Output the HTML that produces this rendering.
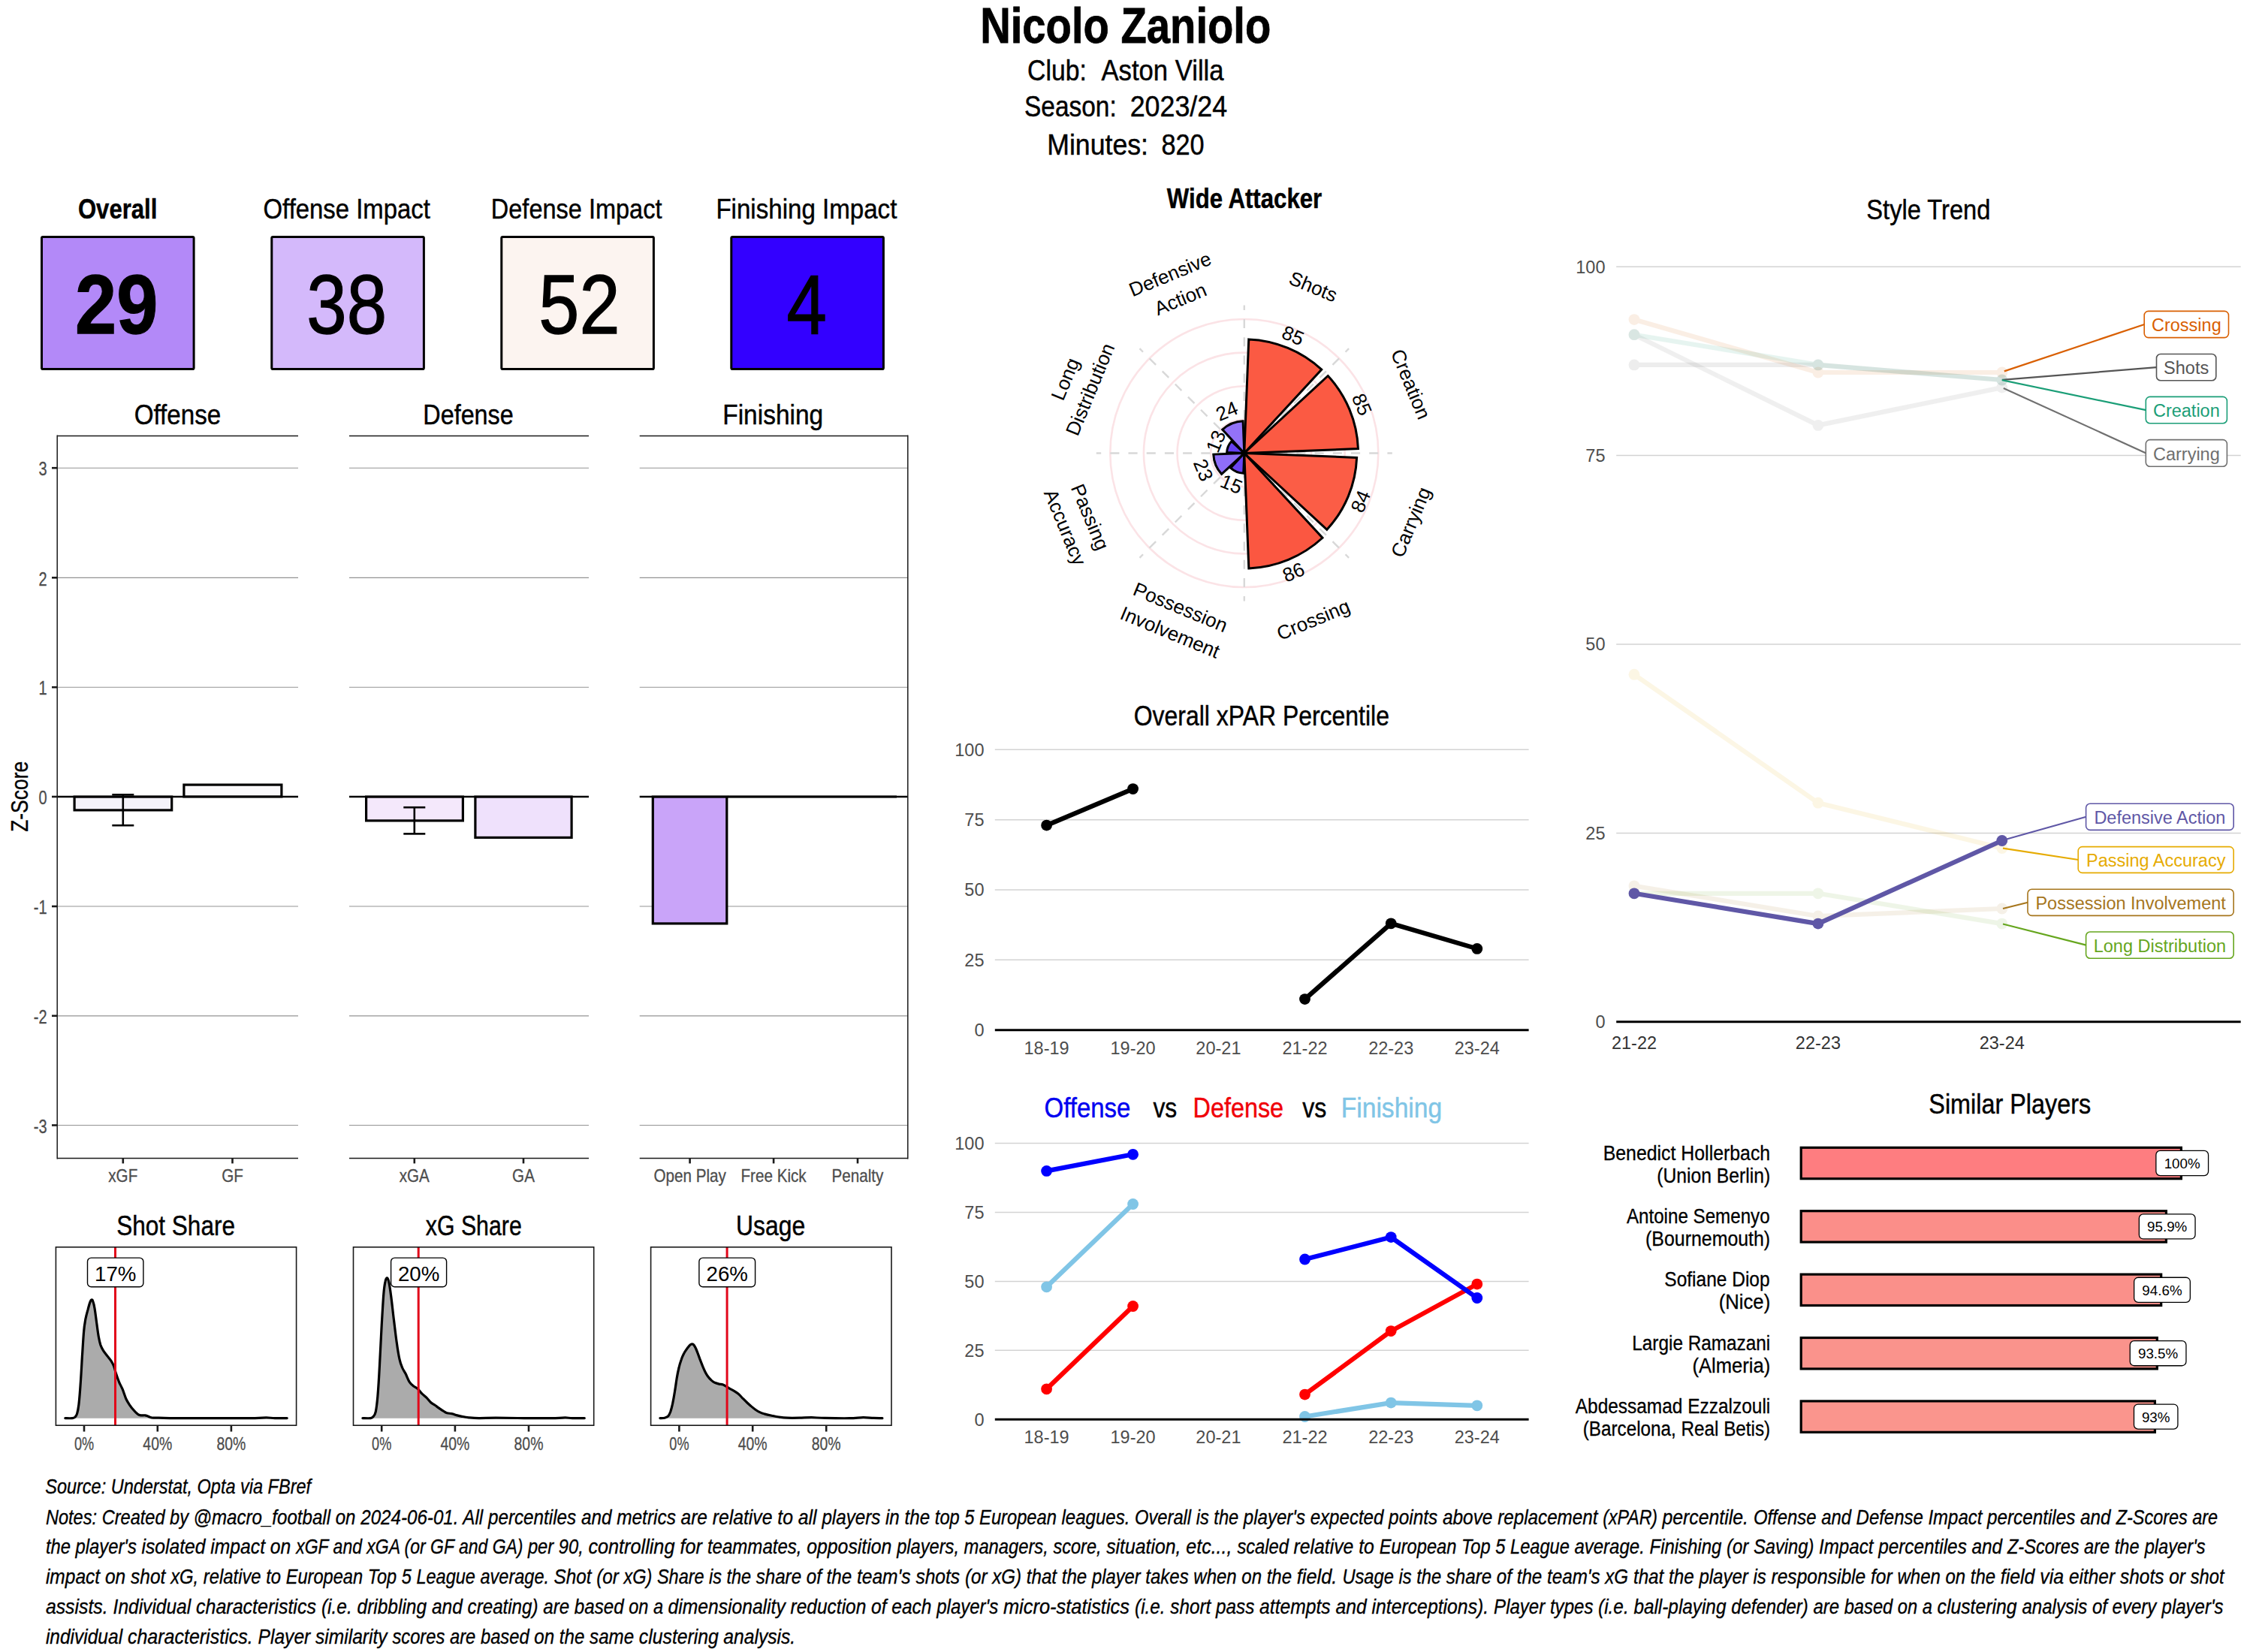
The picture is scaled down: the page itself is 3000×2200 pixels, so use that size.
<!DOCTYPE html>
<html><head><meta charset="utf-8"><title>Nicolo Zaniolo</title>
<style>
html,body{margin:0;padding:0;background:#fff;}
body{width:3000px;height:2200px;overflow:hidden;font-family:"Liberation Sans",sans-serif;}
svg{display:block;font-family:"Liberation Sans",sans-serif;}
</style></head><body>
<svg width="3000" height="2200" viewBox="0 0 3000 2200">
<text x="1305.14" y="57.40" font-size="67" textLength="387.15" lengthAdjust="spacingAndGlyphs" font-weight="bold" fill="#000" stroke="#000" stroke-width="0.80">Nicolo Zaniolo</text>
<text x="1368.09" y="107.00" font-size="39" textLength="78.69" lengthAdjust="spacingAndGlyphs" fill="#000" stroke="#000" stroke-width="0.47">Club:</text>
<text x="1466.43" y="107.00" font-size="39" textLength="163.17" lengthAdjust="spacingAndGlyphs" fill="#000" stroke="#000" stroke-width="0.47">Aston Villa</text>
<text x="1363.98" y="154.70" font-size="39" textLength="122.77" lengthAdjust="spacingAndGlyphs" fill="#000" stroke="#000" stroke-width="0.47">Season:</text>
<text x="1504.70" y="154.70" font-size="39" textLength="129.45" lengthAdjust="spacingAndGlyphs" fill="#000" stroke="#000" stroke-width="0.47">2023/24</text>
<text x="1394.28" y="206.00" font-size="39" textLength="134.68" lengthAdjust="spacingAndGlyphs" fill="#000" stroke="#000" stroke-width="0.47">Minutes:</text>
<text x="1546.41" y="206.00" font-size="39" textLength="57.13" lengthAdjust="spacingAndGlyphs" fill="#000" stroke="#000" stroke-width="0.47">820</text>
<text x="103.92" y="291.40" font-size="37.5" textLength="105.48" lengthAdjust="spacingAndGlyphs" font-weight="bold" fill="#000" stroke="#000" stroke-width="0.45">Overall</text>
<text x="350.54" y="291.40" font-size="37.5" textLength="222.30" lengthAdjust="spacingAndGlyphs" fill="#000" stroke="#000" stroke-width="0.45">Offense Impact</text>
<text x="653.83" y="291.40" font-size="37.5" textLength="227.60" lengthAdjust="spacingAndGlyphs" fill="#000" stroke="#000" stroke-width="0.45">Defense Impact</text>
<text x="953.39" y="291.40" font-size="37.5" textLength="240.96" lengthAdjust="spacingAndGlyphs" fill="#000" stroke="#000" stroke-width="0.45">Finishing Impact</text>
<rect x="55.50" y="315.50" width="202.60" height="176.00" fill="#b389f8" stroke="#000" stroke-width="3" rx="1.6"/>
<rect x="361.80" y="315.50" width="202.60" height="176.00" fill="#d4b9fb" stroke="#000" stroke-width="3" rx="1.6"/>
<rect x="667.80" y="315.50" width="202.60" height="176.00" fill="#fcf4f0" stroke="#000" stroke-width="3" rx="1.6"/>
<rect x="973.80" y="315.50" width="202.60" height="176.00" fill="#3300ff" stroke="#000" stroke-width="3" rx="1.6"/>
<text x="100.06" y="443.80" font-size="112" textLength="110.21" lengthAdjust="spacingAndGlyphs" font-weight="bold" fill="#000" stroke="#000" stroke-width="1.34">29</text>
<text x="408.34" y="443.80" font-size="112" textLength="106.83" lengthAdjust="spacingAndGlyphs" fill="#000" stroke="#000" stroke-width="1.34">38</text>
<text x="717.31" y="443.80" font-size="112" textLength="108.19" lengthAdjust="spacingAndGlyphs" fill="#000" stroke="#000" stroke-width="1.34">52</text>
<text x="1047.40" y="443.80" font-size="112" textLength="53.42" lengthAdjust="spacingAndGlyphs" fill="#000" stroke="#000" stroke-width="1.34">4</text>
<line x1="76.20" y1="623.20" x2="397.00" y2="623.20" stroke="#939393" stroke-width="1.15"/>
<line x1="76.20" y1="769.30" x2="397.00" y2="769.30" stroke="#939393" stroke-width="1.15"/>
<line x1="76.20" y1="915.20" x2="397.00" y2="915.20" stroke="#939393" stroke-width="1.15"/>
<line x1="76.20" y1="1207.00" x2="397.00" y2="1207.00" stroke="#939393" stroke-width="1.15"/>
<line x1="76.20" y1="1352.80" x2="397.00" y2="1352.80" stroke="#939393" stroke-width="1.15"/>
<line x1="76.20" y1="1498.50" x2="397.00" y2="1498.50" stroke="#939393" stroke-width="1.15"/>
<line x1="465.00" y1="623.20" x2="784.00" y2="623.20" stroke="#939393" stroke-width="1.15"/>
<line x1="465.00" y1="769.30" x2="784.00" y2="769.30" stroke="#939393" stroke-width="1.15"/>
<line x1="465.00" y1="915.20" x2="784.00" y2="915.20" stroke="#939393" stroke-width="1.15"/>
<line x1="465.00" y1="1207.00" x2="784.00" y2="1207.00" stroke="#939393" stroke-width="1.15"/>
<line x1="465.00" y1="1352.80" x2="784.00" y2="1352.80" stroke="#939393" stroke-width="1.15"/>
<line x1="465.00" y1="1498.50" x2="784.00" y2="1498.50" stroke="#939393" stroke-width="1.15"/>
<line x1="851.70" y1="623.20" x2="1208.80" y2="623.20" stroke="#939393" stroke-width="1.15"/>
<line x1="851.70" y1="769.30" x2="1208.80" y2="769.30" stroke="#939393" stroke-width="1.15"/>
<line x1="851.70" y1="915.20" x2="1208.80" y2="915.20" stroke="#939393" stroke-width="1.15"/>
<line x1="851.70" y1="1207.00" x2="1208.80" y2="1207.00" stroke="#939393" stroke-width="1.15"/>
<line x1="851.70" y1="1352.80" x2="1208.80" y2="1352.80" stroke="#939393" stroke-width="1.15"/>
<line x1="851.70" y1="1498.50" x2="1208.80" y2="1498.50" stroke="#939393" stroke-width="1.15"/>
<line x1="76.20" y1="1061.00" x2="397.00" y2="1061.00" stroke="#000" stroke-width="2.4"/>
<line x1="465.00" y1="1061.00" x2="784.00" y2="1061.00" stroke="#000" stroke-width="2.4"/>
<line x1="851.70" y1="1061.00" x2="1208.80" y2="1061.00" stroke="#000" stroke-width="2.4"/>
<rect x="99.10" y="1061.10" width="129.60" height="17.80" fill="#f4f2f9" stroke="#000" stroke-width="3.2"/>
<rect x="244.90" y="1045.10" width="130.00" height="15.80" fill="#faf9fb" stroke="#000" stroke-width="3.2"/>
<rect x="487.60" y="1061.10" width="128.80" height="31.80" fill="#f4e8fb" stroke="#000" stroke-width="3.2"/>
<rect x="632.90" y="1061.10" width="128.20" height="54.30" fill="#efe1fc" stroke="#000" stroke-width="3.2"/>
<rect x="869.30" y="1061.10" width="98.50" height="168.80" fill="#c9a4f9" stroke="#000" stroke-width="3.2"/>
<line x1="969.00" y1="1061.00" x2="1194.00" y2="1061.00" stroke="#000" stroke-width="2.9"/>
<line x1="163.80" y1="1058.30" x2="163.80" y2="1099.20" stroke="#000" stroke-width="2.6"/>
<line x1="149.30" y1="1058.30" x2="178.30" y2="1058.30" stroke="#000" stroke-width="2.6"/>
<line x1="149.30" y1="1099.20" x2="178.30" y2="1099.20" stroke="#000" stroke-width="2.6"/>
<line x1="551.80" y1="1075.20" x2="551.80" y2="1110.40" stroke="#000" stroke-width="2.6"/>
<line x1="537.30" y1="1075.20" x2="566.30" y2="1075.20" stroke="#000" stroke-width="2.6"/>
<line x1="537.30" y1="1110.40" x2="566.30" y2="1110.40" stroke="#000" stroke-width="2.6"/>
<line x1="76.20" y1="580.60" x2="397.00" y2="580.60" stroke="#1a1a1a" stroke-width="1.5"/>
<line x1="76.20" y1="1542.40" x2="397.00" y2="1542.40" stroke="#1a1a1a" stroke-width="1.5"/>
<line x1="465.00" y1="580.60" x2="784.00" y2="580.60" stroke="#1a1a1a" stroke-width="1.5"/>
<line x1="465.00" y1="1542.40" x2="784.00" y2="1542.40" stroke="#1a1a1a" stroke-width="1.5"/>
<line x1="851.70" y1="580.60" x2="1208.80" y2="580.60" stroke="#1a1a1a" stroke-width="1.5"/>
<line x1="851.70" y1="1542.40" x2="1208.80" y2="1542.40" stroke="#1a1a1a" stroke-width="1.5"/>
<line x1="76.20" y1="579.60" x2="76.20" y2="1543.40" stroke="#1a1a1a" stroke-width="1.5"/>
<line x1="1208.80" y1="579.60" x2="1208.80" y2="1543.40" stroke="#1a1a1a" stroke-width="1.5"/>
<line x1="69.00" y1="623.20" x2="76.20" y2="623.20" stroke="#1a1a1a" stroke-width="2.6"/>
<text x="51.38" y="633.40" font-size="25" textLength="11.12" lengthAdjust="spacingAndGlyphs" fill="#4d4d4d" stroke="#4d4d4d" stroke-width="0.30">3</text>
<line x1="69.00" y1="769.30" x2="76.20" y2="769.30" stroke="#1a1a1a" stroke-width="2.6"/>
<text x="51.38" y="779.50" font-size="25" textLength="11.12" lengthAdjust="spacingAndGlyphs" fill="#4d4d4d" stroke="#4d4d4d" stroke-width="0.30">2</text>
<line x1="69.00" y1="915.20" x2="76.20" y2="915.20" stroke="#1a1a1a" stroke-width="2.6"/>
<text x="51.38" y="925.40" font-size="25" textLength="11.12" lengthAdjust="spacingAndGlyphs" fill="#4d4d4d" stroke="#4d4d4d" stroke-width="0.30">1</text>
<line x1="69.00" y1="1061.00" x2="76.20" y2="1061.00" stroke="#1a1a1a" stroke-width="2.6"/>
<text x="51.38" y="1071.20" font-size="25" textLength="11.12" lengthAdjust="spacingAndGlyphs" fill="#4d4d4d" stroke="#4d4d4d" stroke-width="0.30">0</text>
<line x1="69.00" y1="1207.00" x2="76.20" y2="1207.00" stroke="#1a1a1a" stroke-width="2.6"/>
<text x="44.72" y="1217.20" font-size="25" textLength="17.78" lengthAdjust="spacingAndGlyphs" fill="#4d4d4d" stroke="#4d4d4d" stroke-width="0.30">-1</text>
<line x1="69.00" y1="1352.80" x2="76.20" y2="1352.80" stroke="#1a1a1a" stroke-width="2.6"/>
<text x="44.72" y="1363.00" font-size="25" textLength="17.78" lengthAdjust="spacingAndGlyphs" fill="#4d4d4d" stroke="#4d4d4d" stroke-width="0.30">-2</text>
<line x1="69.00" y1="1498.50" x2="76.20" y2="1498.50" stroke="#1a1a1a" stroke-width="2.6"/>
<text x="44.72" y="1508.70" font-size="25" textLength="17.78" lengthAdjust="spacingAndGlyphs" fill="#4d4d4d" stroke="#4d4d4d" stroke-width="0.30">-3</text>
<line x1="163.80" y1="1542.40" x2="163.80" y2="1549.40" stroke="#1a1a1a" stroke-width="2.6"/>
<text x="144.31" y="1573.70" font-size="24" textLength="38.98" lengthAdjust="spacingAndGlyphs" fill="#4d4d4d" stroke="#4d4d4d" stroke-width="0.29">xGF</text>
<line x1="309.50" y1="1542.40" x2="309.50" y2="1549.40" stroke="#1a1a1a" stroke-width="2.6"/>
<text x="295.17" y="1573.70" font-size="24" textLength="28.66" lengthAdjust="spacingAndGlyphs" fill="#4d4d4d" stroke="#4d4d4d" stroke-width="0.29">GF</text>
<line x1="551.80" y1="1542.40" x2="551.80" y2="1549.40" stroke="#1a1a1a" stroke-width="2.6"/>
<text x="531.73" y="1573.70" font-size="24" textLength="40.14" lengthAdjust="spacingAndGlyphs" fill="#4d4d4d" stroke="#4d4d4d" stroke-width="0.29">xGA</text>
<line x1="697.00" y1="1542.40" x2="697.00" y2="1549.40" stroke="#1a1a1a" stroke-width="2.6"/>
<text x="682.09" y="1573.70" font-size="24" textLength="29.82" lengthAdjust="spacingAndGlyphs" fill="#4d4d4d" stroke="#4d4d4d" stroke-width="0.29">GA</text>
<line x1="918.60" y1="1542.40" x2="918.60" y2="1549.40" stroke="#1a1a1a" stroke-width="2.6"/>
<text x="870.41" y="1573.70" font-size="24" textLength="96.38" lengthAdjust="spacingAndGlyphs" fill="#4d4d4d" stroke="#4d4d4d" stroke-width="0.29">Open Play</text>
<line x1="1030.10" y1="1542.40" x2="1030.10" y2="1549.40" stroke="#1a1a1a" stroke-width="2.6"/>
<text x="986.52" y="1573.70" font-size="24" textLength="87.17" lengthAdjust="spacingAndGlyphs" fill="#4d4d4d" stroke="#4d4d4d" stroke-width="0.29">Free Kick</text>
<line x1="1142.00" y1="1542.40" x2="1142.00" y2="1549.40" stroke="#1a1a1a" stroke-width="2.6"/>
<text x="1107.58" y="1573.70" font-size="24" textLength="68.84" lengthAdjust="spacingAndGlyphs" fill="#4d4d4d" stroke="#4d4d4d" stroke-width="0.29">Penalty</text>
<text x="178.63" y="565.00" font-size="37.5" textLength="115.54" lengthAdjust="spacingAndGlyphs" fill="#000" stroke="#000" stroke-width="0.45">Offense</text>
<text x="563.35" y="565.00" font-size="37.5" textLength="120.39" lengthAdjust="spacingAndGlyphs" fill="#000" stroke="#000" stroke-width="0.45">Defense</text>
<text x="962.26" y="565.00" font-size="37.5" textLength="133.90" lengthAdjust="spacingAndGlyphs" fill="#000" stroke="#000" stroke-width="0.45">Finishing</text>
<g transform="translate(37.4 1107) rotate(-90)">
<text x="-0.84" y="0.00" font-size="31.5" textLength="94.01" lengthAdjust="spacingAndGlyphs" fill="#000" stroke="#000" stroke-width="0.38">Z-Score</text>
</g>
<path d="M86.8,1888.6C88.3,1888.6 94.0,1888.9 96.2,1888.6C98.4,1888.4 98.9,1888.1 100.0,1887.1C101.0,1886.1 101.8,1885.3 102.6,1882.6C103.4,1879.8 104.1,1876.9 104.9,1870.5C105.6,1864.1 106.4,1854.8 107.1,1844.1C107.9,1833.4 108.7,1818.3 109.4,1806.4C110.2,1794.4 110.9,1780.7 111.7,1772.4C112.4,1764.1 113.1,1761.3 113.9,1756.6C114.8,1751.8 115.9,1747.9 117.0,1744.1C118.0,1740.3 119.2,1736.1 120.0,1733.9C120.8,1731.7 121.2,1731.1 121.9,1730.9C122.5,1730.7 123.1,1730.9 123.7,1732.8C124.4,1734.7 125.2,1737.5 126.0,1742.2C126.8,1746.9 127.8,1754.8 128.6,1761.1C129.5,1767.4 130.4,1774.9 131.3,1780.0C132.2,1785.0 132.9,1788.1 133.9,1791.3C135.0,1794.4 136.1,1796.3 137.7,1798.8C139.3,1801.3 141.6,1804.0 143.4,1806.4C145.1,1808.7 146.9,1810.6 148.3,1812.8C149.7,1815.0 150.6,1816.7 151.7,1819.6C152.7,1822.4 153.5,1826.3 154.7,1829.8C155.8,1833.2 157.1,1837.0 158.5,1840.3C159.8,1843.6 161.4,1846.0 163.0,1849.7C164.6,1853.5 166.3,1859.4 167.9,1863.0C169.5,1866.5 171.1,1868.7 172.8,1871.3C174.5,1873.8 176.4,1876.1 178.1,1878.0C179.8,1880.0 181.4,1881.8 183.0,1882.9C184.5,1884.1 185.8,1884.5 187.5,1884.8C189.2,1885.1 191.6,1884.6 193.2,1884.8C194.7,1885.0 195.5,1885.5 196.9,1886.0C198.4,1886.5 199.5,1887.5 201.8,1887.9C204.2,1888.2 207.2,1888.1 211.3,1888.2C215.4,1888.4 217.6,1888.5 226.4,1888.6C235.2,1888.7 251.5,1888.6 264.1,1888.6C276.7,1888.6 289.2,1888.6 301.8,1888.6C314.4,1888.6 330.7,1888.7 339.5,1888.6C348.3,1888.5 350.2,1887.9 354.6,1887.9C359.0,1887.9 361.4,1888.5 366.0,1888.6C370.5,1888.7 379.5,1888.6 382.2,1888.6L382.2,1888.7L86.8,1888.7Z" fill="#ababab"/>
<path d="M86.8,1888.6C88.3,1888.6 94.0,1888.9 96.2,1888.6C98.4,1888.4 98.9,1888.1 100.0,1887.1C101.0,1886.1 101.8,1885.3 102.6,1882.6C103.4,1879.8 104.1,1876.9 104.9,1870.5C105.6,1864.1 106.4,1854.8 107.1,1844.1C107.9,1833.4 108.7,1818.3 109.4,1806.4C110.2,1794.4 110.9,1780.7 111.7,1772.4C112.4,1764.1 113.1,1761.3 113.9,1756.6C114.8,1751.8 115.9,1747.9 117.0,1744.1C118.0,1740.3 119.2,1736.1 120.0,1733.9C120.8,1731.7 121.2,1731.1 121.9,1730.9C122.5,1730.7 123.1,1730.9 123.7,1732.8C124.4,1734.7 125.2,1737.5 126.0,1742.2C126.8,1746.9 127.8,1754.8 128.6,1761.1C129.5,1767.4 130.4,1774.9 131.3,1780.0C132.2,1785.0 132.9,1788.1 133.9,1791.3C135.0,1794.4 136.1,1796.3 137.7,1798.8C139.3,1801.3 141.6,1804.0 143.4,1806.4C145.1,1808.7 146.9,1810.6 148.3,1812.8C149.7,1815.0 150.6,1816.7 151.7,1819.6C152.7,1822.4 153.5,1826.3 154.7,1829.8C155.8,1833.2 157.1,1837.0 158.5,1840.3C159.8,1843.6 161.4,1846.0 163.0,1849.7C164.6,1853.5 166.3,1859.4 167.9,1863.0C169.5,1866.5 171.1,1868.7 172.8,1871.3C174.5,1873.8 176.4,1876.1 178.1,1878.0C179.8,1880.0 181.4,1881.8 183.0,1882.9C184.5,1884.1 185.8,1884.5 187.5,1884.8C189.2,1885.1 191.6,1884.6 193.2,1884.8C194.7,1885.0 195.5,1885.5 196.9,1886.0C198.4,1886.5 199.5,1887.5 201.8,1887.9C204.2,1888.2 207.2,1888.1 211.3,1888.2C215.4,1888.4 217.6,1888.5 226.4,1888.6C235.2,1888.7 251.5,1888.6 264.1,1888.6C276.7,1888.6 289.2,1888.6 301.8,1888.6C314.4,1888.6 330.7,1888.7 339.5,1888.6C348.3,1888.5 350.2,1887.9 354.6,1887.9C359.0,1887.9 361.4,1888.5 366.0,1888.6C370.5,1888.7 379.5,1888.6 382.2,1888.6" fill="none" stroke="#000" stroke-width="3.2" stroke-linejoin="round" stroke-linecap="round"/>
<line x1="153.50" y1="1660.00" x2="153.50" y2="1899.00" stroke="#e2061a" stroke-width="3"/>
<rect x="74.40" y="1660.80" width="320.20" height="237.40" fill="none" stroke="#1a1a1a" stroke-width="1.6"/>
<rect x="116.50" y="1675.10" width="74.40" height="38.60" fill="#fff" stroke="#000" stroke-width="1.4" rx="5"/>
<text x="153.70" y="1705.60" font-size="27.7" text-anchor="middle" fill="#000">17%</text>
<line x1="112.00" y1="1899.00" x2="112.00" y2="1906.50" stroke="#1a1a1a" stroke-width="2.6"/>
<text x="98.91" y="1931.00" font-size="24" textLength="26.19" lengthAdjust="spacingAndGlyphs" fill="#4d4d4d" stroke="#4d4d4d" stroke-width="0.29">0%</text>
<line x1="209.80" y1="1899.00" x2="209.80" y2="1906.50" stroke="#1a1a1a" stroke-width="2.6"/>
<text x="190.35" y="1931.00" font-size="24" textLength="38.91" lengthAdjust="spacingAndGlyphs" fill="#4d4d4d" stroke="#4d4d4d" stroke-width="0.29">40%</text>
<line x1="307.90" y1="1899.00" x2="307.90" y2="1906.50" stroke="#1a1a1a" stroke-width="2.6"/>
<text x="288.45" y="1931.00" font-size="24" textLength="38.91" lengthAdjust="spacingAndGlyphs" fill="#4d4d4d" stroke="#4d4d4d" stroke-width="0.29">80%</text>
<text x="155.17" y="1645.00" font-size="37.5" textLength="157.83" lengthAdjust="spacingAndGlyphs" fill="#000" stroke="#000" stroke-width="0.45">Shot Share</text>
<path d="M482.9,1888.6C484.7,1888.6 491.1,1889.0 493.5,1888.6C495.9,1888.2 496.1,1887.8 497.2,1886.3C498.4,1884.9 499.3,1884.5 500.3,1879.9C501.2,1875.4 502.0,1869.6 502.9,1859.2C503.8,1848.8 504.7,1833.4 505.5,1817.7C506.4,1802.0 507.3,1780.6 508.2,1764.9C509.1,1749.1 510.0,1733.1 510.8,1723.4C511.6,1713.6 512.3,1710.0 513.1,1706.4C513.8,1702.8 514.6,1701.9 515.4,1701.9C516.1,1701.9 516.7,1702.5 517.6,1706.4C518.5,1710.3 519.5,1716.8 520.6,1725.2C521.8,1733.7 523.1,1746.9 524.4,1757.3C525.7,1767.7 526.9,1778.7 528.2,1787.5C529.4,1796.3 530.7,1804.5 532.0,1810.1C533.2,1815.8 534.3,1818.2 535.7,1821.5C537.1,1824.7 538.7,1826.6 540.3,1829.8C541.8,1832.9 543.4,1837.6 545.2,1840.3C546.9,1843.0 548.9,1844.4 550.8,1846.0C552.7,1847.5 554.6,1848.1 556.5,1849.7C558.4,1851.4 560.2,1854.3 562.1,1856.2C564.0,1858.0 565.9,1859.2 567.8,1861.1C569.7,1863.0 571.6,1865.8 573.5,1867.5C575.3,1869.2 577.2,1869.9 579.1,1871.3C581.0,1872.6 582.9,1874.1 584.8,1875.4C586.7,1876.7 588.7,1878.1 590.4,1879.2C592.2,1880.2 593.4,1881.3 595.3,1881.8C597.2,1882.4 599.7,1882.1 601.7,1882.6C603.8,1883.0 605.2,1883.8 607.4,1884.5C609.6,1885.1 612.1,1885.8 615.0,1886.3C617.8,1886.9 620.6,1887.5 624.4,1887.9C628.2,1888.2 631.6,1888.5 637.6,1888.6C643.6,1888.7 650.2,1888.2 660.2,1888.2C670.3,1888.2 684.7,1888.5 697.9,1888.6C711.2,1888.7 730.3,1888.7 739.4,1888.6C748.6,1888.5 748.9,1887.9 752.7,1887.9C756.4,1887.9 757.8,1888.5 762.1,1888.6C766.4,1888.7 775.6,1888.6 778.3,1888.6L778.3,1888.7L482.9,1888.7Z" fill="#ababab"/>
<path d="M482.9,1888.6C484.7,1888.6 491.1,1889.0 493.5,1888.6C495.9,1888.2 496.1,1887.8 497.2,1886.3C498.4,1884.9 499.3,1884.5 500.3,1879.9C501.2,1875.4 502.0,1869.6 502.9,1859.2C503.8,1848.8 504.7,1833.4 505.5,1817.7C506.4,1802.0 507.3,1780.6 508.2,1764.9C509.1,1749.1 510.0,1733.1 510.8,1723.4C511.6,1713.6 512.3,1710.0 513.1,1706.4C513.8,1702.8 514.6,1701.9 515.4,1701.9C516.1,1701.9 516.7,1702.5 517.6,1706.4C518.5,1710.3 519.5,1716.8 520.6,1725.2C521.8,1733.7 523.1,1746.9 524.4,1757.3C525.7,1767.7 526.9,1778.7 528.2,1787.5C529.4,1796.3 530.7,1804.5 532.0,1810.1C533.2,1815.8 534.3,1818.2 535.7,1821.5C537.1,1824.7 538.7,1826.6 540.3,1829.8C541.8,1832.9 543.4,1837.6 545.2,1840.3C546.9,1843.0 548.9,1844.4 550.8,1846.0C552.7,1847.5 554.6,1848.1 556.5,1849.7C558.4,1851.4 560.2,1854.3 562.1,1856.2C564.0,1858.0 565.9,1859.2 567.8,1861.1C569.7,1863.0 571.6,1865.8 573.5,1867.5C575.3,1869.2 577.2,1869.9 579.1,1871.3C581.0,1872.6 582.9,1874.1 584.8,1875.4C586.7,1876.7 588.7,1878.1 590.4,1879.2C592.2,1880.2 593.4,1881.3 595.3,1881.8C597.2,1882.4 599.7,1882.1 601.7,1882.6C603.8,1883.0 605.2,1883.8 607.4,1884.5C609.6,1885.1 612.1,1885.8 615.0,1886.3C617.8,1886.9 620.6,1887.5 624.4,1887.9C628.2,1888.2 631.6,1888.5 637.6,1888.6C643.6,1888.7 650.2,1888.2 660.2,1888.2C670.3,1888.2 684.7,1888.5 697.9,1888.6C711.2,1888.7 730.3,1888.7 739.4,1888.6C748.6,1888.5 748.9,1887.9 752.7,1887.9C756.4,1887.9 757.8,1888.5 762.1,1888.6C766.4,1888.7 775.6,1888.6 778.3,1888.6" fill="none" stroke="#000" stroke-width="3.2" stroke-linejoin="round" stroke-linecap="round"/>
<line x1="557.20" y1="1660.00" x2="557.20" y2="1899.00" stroke="#e2061a" stroke-width="3"/>
<rect x="470.50" y="1660.80" width="320.20" height="237.40" fill="none" stroke="#1a1a1a" stroke-width="1.6"/>
<rect x="520.60" y="1675.10" width="74.00" height="38.60" fill="#fff" stroke="#000" stroke-width="1.4" rx="5"/>
<text x="557.60" y="1705.60" font-size="27.7" text-anchor="middle" fill="#000">20%</text>
<line x1="508.20" y1="1899.00" x2="508.20" y2="1906.50" stroke="#1a1a1a" stroke-width="2.6"/>
<text x="495.11" y="1931.00" font-size="24" textLength="26.19" lengthAdjust="spacingAndGlyphs" fill="#4d4d4d" stroke="#4d4d4d" stroke-width="0.29">0%</text>
<line x1="605.90" y1="1899.00" x2="605.90" y2="1906.50" stroke="#1a1a1a" stroke-width="2.6"/>
<text x="586.45" y="1931.00" font-size="24" textLength="38.91" lengthAdjust="spacingAndGlyphs" fill="#4d4d4d" stroke="#4d4d4d" stroke-width="0.29">40%</text>
<line x1="704.00" y1="1899.00" x2="704.00" y2="1906.50" stroke="#1a1a1a" stroke-width="2.6"/>
<text x="684.55" y="1931.00" font-size="24" textLength="38.91" lengthAdjust="spacingAndGlyphs" fill="#4d4d4d" stroke="#4d4d4d" stroke-width="0.29">80%</text>
<text x="566.76" y="1645.00" font-size="37.5" textLength="127.99" lengthAdjust="spacingAndGlyphs" fill="#000" stroke="#000" stroke-width="0.45">xG Share</text>
<path d="M878.9,1888.7C879.9,1888.6 883.3,1888.7 885.1,1888.2C886.9,1887.7 888.4,1887.2 889.7,1885.9C891.0,1884.6 891.7,1882.8 892.7,1880.2C893.6,1877.5 894.5,1874.2 895.5,1869.8C896.4,1865.4 897.5,1859.5 898.4,1853.7C899.4,1848.0 900.3,1840.7 901.2,1835.3C902.1,1829.9 903.0,1825.5 904.0,1821.5C904.9,1817.5 905.9,1814.2 907.0,1811.2C908.0,1808.1 909.2,1805.4 910.4,1803.1C911.5,1800.8 912.7,1799.1 913.9,1797.3C915.0,1795.6 916.3,1793.9 917.3,1792.8C918.3,1791.6 919.1,1790.6 920.1,1790.2C921.0,1789.8 921.9,1789.6 922.8,1790.2C923.7,1790.8 924.6,1792.1 925.6,1793.9C926.6,1795.7 927.7,1798.5 928.8,1801.3C929.9,1804.1 931.1,1807.6 932.2,1810.7C933.4,1813.8 934.6,1816.9 935.7,1819.7C936.9,1822.4 938.0,1825.0 939.1,1827.2C940.3,1829.5 941.3,1831.2 942.6,1833.0C943.9,1834.8 945.7,1836.7 947.2,1838.1C948.7,1839.4 950.1,1840.4 951.8,1841.3C953.5,1842.1 955.8,1842.7 957.5,1843.1C959.3,1843.5 960.6,1843.3 962.1,1843.8C963.7,1844.3 965.2,1845.2 966.8,1846.1C968.3,1847.0 969.6,1848.1 971.4,1849.1C973.1,1850.1 975.2,1850.9 977.1,1852.1C979.0,1853.2 980.9,1854.4 982.9,1856.0C984.8,1857.6 986.7,1859.8 988.6,1861.8C990.5,1863.7 992.4,1865.7 994.4,1867.5C996.3,1869.3 998.2,1870.9 1000.1,1872.6C1002.0,1874.2 1003.9,1875.8 1005.9,1877.2C1007.8,1878.5 1009.5,1879.6 1011.6,1880.6C1013.7,1881.6 1015.8,1882.4 1018.5,1883.1C1021.2,1883.9 1024.6,1884.6 1027.7,1885.2C1030.8,1885.9 1033.5,1886.6 1036.9,1887.0C1040.4,1887.5 1043.8,1888.0 1048.4,1888.2C1053.0,1888.4 1059.1,1888.3 1064.5,1888.2C1069.9,1888.1 1074.8,1887.7 1080.6,1887.7C1086.3,1887.8 1090.6,1888.3 1099.0,1888.4C1107.4,1888.6 1122.8,1888.8 1131.2,1888.7C1139.6,1888.5 1144.2,1887.8 1149.6,1887.7C1155.0,1887.7 1159.2,1888.3 1163.4,1888.4C1167.6,1888.6 1173.0,1888.6 1174.9,1888.7L1174.9,1888.7L878.9,1888.7Z" fill="#ababab"/>
<path d="M878.9,1888.7C879.9,1888.6 883.3,1888.7 885.1,1888.2C886.9,1887.7 888.4,1887.2 889.7,1885.9C891.0,1884.6 891.7,1882.8 892.7,1880.2C893.6,1877.5 894.5,1874.2 895.5,1869.8C896.4,1865.4 897.5,1859.5 898.4,1853.7C899.4,1848.0 900.3,1840.7 901.2,1835.3C902.1,1829.9 903.0,1825.5 904.0,1821.5C904.9,1817.5 905.9,1814.2 907.0,1811.2C908.0,1808.1 909.2,1805.4 910.4,1803.1C911.5,1800.8 912.7,1799.1 913.9,1797.3C915.0,1795.6 916.3,1793.9 917.3,1792.8C918.3,1791.6 919.1,1790.6 920.1,1790.2C921.0,1789.8 921.9,1789.6 922.8,1790.2C923.7,1790.8 924.6,1792.1 925.6,1793.9C926.6,1795.7 927.7,1798.5 928.8,1801.3C929.9,1804.1 931.1,1807.6 932.2,1810.7C933.4,1813.8 934.6,1816.9 935.7,1819.7C936.9,1822.4 938.0,1825.0 939.1,1827.2C940.3,1829.5 941.3,1831.2 942.6,1833.0C943.9,1834.8 945.7,1836.7 947.2,1838.1C948.7,1839.4 950.1,1840.4 951.8,1841.3C953.5,1842.1 955.8,1842.7 957.5,1843.1C959.3,1843.5 960.6,1843.3 962.1,1843.8C963.7,1844.3 965.2,1845.2 966.8,1846.1C968.3,1847.0 969.6,1848.1 971.4,1849.1C973.1,1850.1 975.2,1850.9 977.1,1852.1C979.0,1853.2 980.9,1854.4 982.9,1856.0C984.8,1857.6 986.7,1859.8 988.6,1861.8C990.5,1863.7 992.4,1865.7 994.4,1867.5C996.3,1869.3 998.2,1870.9 1000.1,1872.6C1002.0,1874.2 1003.9,1875.8 1005.9,1877.2C1007.8,1878.5 1009.5,1879.6 1011.6,1880.6C1013.7,1881.6 1015.8,1882.4 1018.5,1883.1C1021.2,1883.9 1024.6,1884.6 1027.7,1885.2C1030.8,1885.9 1033.5,1886.6 1036.9,1887.0C1040.4,1887.5 1043.8,1888.0 1048.4,1888.2C1053.0,1888.4 1059.1,1888.3 1064.5,1888.2C1069.9,1888.1 1074.8,1887.7 1080.6,1887.7C1086.3,1887.8 1090.6,1888.3 1099.0,1888.4C1107.4,1888.6 1122.8,1888.8 1131.2,1888.7C1139.6,1888.5 1144.2,1887.8 1149.6,1887.7C1155.0,1887.7 1159.2,1888.3 1163.4,1888.4C1167.6,1888.6 1173.0,1888.6 1174.9,1888.7" fill="none" stroke="#000" stroke-width="3.2" stroke-linejoin="round" stroke-linecap="round"/>
<line x1="968.10" y1="1660.00" x2="968.10" y2="1899.00" stroke="#e2061a" stroke-width="3"/>
<rect x="866.60" y="1660.80" width="320.40" height="237.40" fill="none" stroke="#1a1a1a" stroke-width="1.6"/>
<rect x="930.90" y="1675.10" width="74.70" height="38.60" fill="#fff" stroke="#000" stroke-width="1.4" rx="5"/>
<text x="968.25" y="1705.60" font-size="27.7" text-anchor="middle" fill="#000">26%</text>
<line x1="904.40" y1="1899.00" x2="904.40" y2="1906.50" stroke="#1a1a1a" stroke-width="2.6"/>
<text x="891.31" y="1931.00" font-size="24" textLength="26.19" lengthAdjust="spacingAndGlyphs" fill="#4d4d4d" stroke="#4d4d4d" stroke-width="0.29">0%</text>
<line x1="1002.20" y1="1899.00" x2="1002.20" y2="1906.50" stroke="#1a1a1a" stroke-width="2.6"/>
<text x="982.75" y="1931.00" font-size="24" textLength="38.91" lengthAdjust="spacingAndGlyphs" fill="#4d4d4d" stroke="#4d4d4d" stroke-width="0.29">40%</text>
<line x1="1100.20" y1="1899.00" x2="1100.20" y2="1906.50" stroke="#1a1a1a" stroke-width="2.6"/>
<text x="1080.75" y="1931.00" font-size="24" textLength="38.91" lengthAdjust="spacingAndGlyphs" fill="#4d4d4d" stroke="#4d4d4d" stroke-width="0.29">80%</text>
<text x="979.94" y="1645.00" font-size="37.5" textLength="92.18" lengthAdjust="spacingAndGlyphs" fill="#000" stroke="#000" stroke-width="0.45">Usage</text>
<text x="1553.87" y="276.80" font-size="37.5" textLength="206.30" lengthAdjust="spacingAndGlyphs" font-weight="bold" fill="#000" stroke="#000" stroke-width="0.45">Wide Attacker</text>
<circle cx="1656.8" cy="603.5" r="44.62" fill="none" stroke="#fbe3e6" stroke-width="2.6"/>
<circle cx="1656.8" cy="603.5" r="89.25" fill="none" stroke="#fbe3e6" stroke-width="2.6"/>
<circle cx="1656.8" cy="603.5" r="133.88" fill="none" stroke="#fbe3e6" stroke-width="2.6"/>
<circle cx="1656.8" cy="603.5" r="178.50" fill="none" stroke="#fbe3e6" stroke-width="2.6"/>
<line x1="1656.80" y1="603.50" x2="1656.80" y2="406.50" stroke="#d8d8d8" stroke-width="2.4" stroke-dasharray="12.1 12.1" stroke-dashoffset="3"/>
<line x1="1656.80" y1="603.50" x2="1796.10" y2="464.20" stroke="#d8d8d8" stroke-width="2.4" stroke-dasharray="12.1 12.1" stroke-dashoffset="3"/>
<line x1="1656.80" y1="603.50" x2="1853.80" y2="603.50" stroke="#d8d8d8" stroke-width="2.4" stroke-dasharray="12.1 12.1" stroke-dashoffset="3"/>
<line x1="1656.80" y1="603.50" x2="1796.10" y2="742.80" stroke="#d8d8d8" stroke-width="2.4" stroke-dasharray="12.1 12.1" stroke-dashoffset="3"/>
<line x1="1656.80" y1="603.50" x2="1656.80" y2="800.50" stroke="#d8d8d8" stroke-width="2.4" stroke-dasharray="12.1 12.1" stroke-dashoffset="3"/>
<line x1="1656.80" y1="603.50" x2="1517.50" y2="742.80" stroke="#d8d8d8" stroke-width="2.4" stroke-dasharray="12.1 12.1" stroke-dashoffset="3"/>
<line x1="1656.80" y1="603.50" x2="1459.80" y2="603.50" stroke="#d8d8d8" stroke-width="2.4" stroke-dasharray="12.1 12.1" stroke-dashoffset="3"/>
<line x1="1656.80" y1="603.50" x2="1517.50" y2="464.20" stroke="#d8d8d8" stroke-width="2.4" stroke-dasharray="12.1 12.1" stroke-dashoffset="3"/>
<path d="M1656.8,603.5L1662.76,451.89A151.72,151.72 0 0 1 1759.79,492.08Z" fill="#fb5a43" stroke="#000" stroke-width="3" stroke-linejoin="miter"/>
<path d="M1656.8,603.5L1768.22,500.51A151.72,151.72 0 0 1 1808.41,597.54Z" fill="#fb5a43" stroke="#000" stroke-width="3" stroke-linejoin="miter"/>
<path d="M1656.8,603.5L1806.62,609.39A149.94,149.94 0 0 1 1766.90,705.28Z" fill="#fb5d46" stroke="#000" stroke-width="3" stroke-linejoin="miter"/>
<path d="M1656.8,603.5L1761.00,716.23A153.51,153.51 0 0 1 1662.83,756.89Z" fill="#fb5741" stroke="#000" stroke-width="3" stroke-linejoin="miter"/>
<path d="M1656.8,603.5L1655.75,630.25A26.77,26.77 0 0 1 1638.63,623.16Z" fill="#6a45f3" stroke="#000" stroke-width="3" stroke-linejoin="miter"/>
<path d="M1656.8,603.5L1626.65,631.37A41.05,41.05 0 0 1 1615.78,605.11Z" fill="#8f6ef8" stroke="#000" stroke-width="3" stroke-linejoin="miter"/>
<path d="M1656.8,603.5L1633.61,602.59A23.20,23.20 0 0 1 1639.76,587.75Z" fill="#6640f2" stroke="#000" stroke-width="3" stroke-linejoin="miter"/>
<path d="M1656.8,603.5L1627.72,572.04A42.84,42.84 0 0 1 1655.12,560.69Z" fill="#9372f8" stroke="#000" stroke-width="3" stroke-linejoin="miter"/>
<text x="1721.69" y="446.83" font-size="26" text-anchor="middle" dominant-baseline="central" transform="rotate(22.50 1721.69 446.83)">85</text>
<text x="1748.68" y="381.69" font-size="26" text-anchor="middle" dominant-baseline="central" transform="rotate(22.50 1748.68 381.69)">Shots</text>
<text x="1813.47" y="538.61" font-size="26" text-anchor="middle" dominant-baseline="central" transform="rotate(67.50 1813.47 538.61)">85</text>
<text x="1878.61" y="511.62" font-size="26" text-anchor="middle" dominant-baseline="central" transform="rotate(67.50 1878.61 511.62)">Creation</text>
<text x="1811.82" y="667.71" font-size="26" text-anchor="middle" dominant-baseline="central" transform="rotate(-67.50 1811.82 667.71)">84</text>
<text x="1878.61" y="695.38" font-size="26" text-anchor="middle" dominant-baseline="central" transform="rotate(-67.50 1878.61 695.38)">Carrying</text>
<text x="1722.38" y="761.82" font-size="26" text-anchor="middle" dominant-baseline="central" transform="rotate(-22.50 1722.38 761.82)">86</text>
<text x="1748.68" y="825.31" font-size="26" text-anchor="middle" dominant-baseline="central" transform="rotate(-22.50 1748.68 825.31)">Crossing</text>
<text x="1639.72" y="644.73" font-size="26" text-anchor="middle" dominant-baseline="central" transform="rotate(22.50 1639.72 644.73)">15</text>
<g transform="rotate(22.50 1564.92 825.31)"><text x="1564.92" y="807.31" font-size="26" text-anchor="middle" dominant-baseline="central">Possession</text><text x="1564.92" y="843.31" font-size="26" text-anchor="middle" dominant-baseline="central">Involvement</text></g>
<text x="1602.38" y="626.04" font-size="26" text-anchor="middle" dominant-baseline="central" transform="rotate(67.50 1602.38 626.04)">23</text>
<g transform="rotate(67.50 1434.99 695.38)"><text x="1434.99" y="677.38" font-size="26" text-anchor="middle" dominant-baseline="central">Passing</text><text x="1434.99" y="713.38" font-size="26" text-anchor="middle" dominant-baseline="central">Accuracy</text></g>
<text x="1618.87" y="587.79" font-size="26" text-anchor="middle" dominant-baseline="central" transform="rotate(-67.50 1618.87 587.79)">13</text>
<g transform="rotate(-67.50 1434.99 511.62)"><text x="1434.99" y="493.62" font-size="26" text-anchor="middle" dominant-baseline="central">Long</text><text x="1434.99" y="529.62" font-size="26" text-anchor="middle" dominant-baseline="central">Distribution</text></g>
<text x="1633.57" y="547.43" font-size="26" text-anchor="middle" dominant-baseline="central" transform="rotate(-22.50 1633.57 547.43)">24</text>
<g transform="rotate(-22.50 1564.92 381.69)"><text x="1564.92" y="363.69" font-size="26" text-anchor="middle" dominant-baseline="central">Defensive</text><text x="1564.92" y="399.69" font-size="26" text-anchor="middle" dominant-baseline="central">Action</text></g>
<text x="1509.69" y="965.50" font-size="37.5" textLength="340.23" lengthAdjust="spacingAndGlyphs" fill="#000" stroke="#000" stroke-width="0.45">Overall xPAR Percentile</text>
<line x1="1324.80" y1="1278.35" x2="2035.60" y2="1278.35" stroke="#d3d3d3" stroke-width="1.5"/>
<line x1="1324.80" y1="1185.00" x2="2035.60" y2="1185.00" stroke="#d3d3d3" stroke-width="1.5"/>
<line x1="1324.80" y1="1091.65" x2="2035.60" y2="1091.65" stroke="#d3d3d3" stroke-width="1.5"/>
<line x1="1324.80" y1="998.30" x2="2035.60" y2="998.30" stroke="#d3d3d3" stroke-width="1.5"/>
<text x="1310.50" y="1380.10" font-size="23.5" text-anchor="end" fill="#4d4d4d">0</text>
<text x="1310.50" y="1286.75" font-size="23.5" text-anchor="end" fill="#4d4d4d">25</text>
<text x="1310.50" y="1193.40" font-size="23.5" text-anchor="end" fill="#4d4d4d">50</text>
<text x="1310.50" y="1100.05" font-size="23.5" text-anchor="end" fill="#4d4d4d">75</text>
<text x="1310.50" y="1006.70" font-size="23.5" text-anchor="end" fill="#4d4d4d">100</text>
<text x="1393.60" y="1403.50" font-size="23.5" text-anchor="middle" fill="#4d4d4d">18-19</text>
<text x="1508.60" y="1403.50" font-size="23.5" text-anchor="middle" fill="#4d4d4d">19-20</text>
<text x="1622.40" y="1403.50" font-size="23.5" text-anchor="middle" fill="#4d4d4d">20-21</text>
<text x="1737.50" y="1403.50" font-size="23.5" text-anchor="middle" fill="#4d4d4d">21-22</text>
<text x="1852.20" y="1403.50" font-size="23.5" text-anchor="middle" fill="#4d4d4d">22-23</text>
<text x="1966.80" y="1403.50" font-size="23.5" text-anchor="middle" fill="#4d4d4d">23-24</text>
<polyline points="1393.6,1099.1 1508.6,1050.6" fill="none" stroke="#000" stroke-width="6.2" stroke-linejoin="round" stroke-linecap="butt"/>
<polyline points="1737.5,1330.6 1852.2,1229.8 1966.8,1263.4" fill="none" stroke="#000" stroke-width="6.2" stroke-linejoin="round" stroke-linecap="butt"/>
<circle cx="1393.6" cy="1099.1" r="7.4" fill="#000"/>
<circle cx="1508.6" cy="1050.6" r="7.4" fill="#000"/>
<circle cx="1737.5" cy="1330.6" r="7.4" fill="#000"/>
<circle cx="1852.2" cy="1229.8" r="7.4" fill="#000"/>
<circle cx="1966.8" cy="1263.4" r="7.4" fill="#000"/>
<line x1="1324.80" y1="1371.70" x2="2035.60" y2="1371.70" stroke="#000" stroke-width="3"/>
<text x="1390.54" y="1488.00" font-size="37.5" textLength="114.83" lengthAdjust="spacingAndGlyphs" fill="#0000f0" stroke="#0000f0" stroke-width="0.45">Offense</text>
<text x="1535.39" y="1488.00" font-size="37.5" textLength="31.86" lengthAdjust="spacingAndGlyphs" fill="#000" stroke="#000" stroke-width="0.45">vs</text>
<text x="1588.54" y="1488.00" font-size="37.5" textLength="120.59" lengthAdjust="spacingAndGlyphs" fill="#f00008" stroke="#f00008" stroke-width="0.45">Defense</text>
<text x="1734.19" y="1488.00" font-size="37.5" textLength="32.17" lengthAdjust="spacingAndGlyphs" fill="#000" stroke="#000" stroke-width="0.45">vs</text>
<text x="1785.74" y="1488.00" font-size="37.5" textLength="134.42" lengthAdjust="spacingAndGlyphs" fill="#80c5e6" stroke="#80c5e6" stroke-width="0.45">Finishing</text>
<line x1="1324.80" y1="1798.30" x2="2035.60" y2="1798.30" stroke="#d3d3d3" stroke-width="1.5"/>
<line x1="1324.80" y1="1706.40" x2="2035.60" y2="1706.40" stroke="#d3d3d3" stroke-width="1.5"/>
<line x1="1324.80" y1="1614.50" x2="2035.60" y2="1614.50" stroke="#d3d3d3" stroke-width="1.5"/>
<line x1="1324.80" y1="1522.60" x2="2035.60" y2="1522.60" stroke="#d3d3d3" stroke-width="1.5"/>
<text x="1310.50" y="1898.60" font-size="23.5" text-anchor="end" fill="#4d4d4d">0</text>
<text x="1310.50" y="1806.70" font-size="23.5" text-anchor="end" fill="#4d4d4d">25</text>
<text x="1310.50" y="1714.80" font-size="23.5" text-anchor="end" fill="#4d4d4d">50</text>
<text x="1310.50" y="1622.90" font-size="23.5" text-anchor="end" fill="#4d4d4d">75</text>
<text x="1310.50" y="1531.00" font-size="23.5" text-anchor="end" fill="#4d4d4d">100</text>
<text x="1393.60" y="1922.00" font-size="23.5" text-anchor="middle" fill="#4d4d4d">18-19</text>
<text x="1508.60" y="1922.00" font-size="23.5" text-anchor="middle" fill="#4d4d4d">19-20</text>
<text x="1622.40" y="1922.00" font-size="23.5" text-anchor="middle" fill="#4d4d4d">20-21</text>
<text x="1737.50" y="1922.00" font-size="23.5" text-anchor="middle" fill="#4d4d4d">21-22</text>
<text x="1852.20" y="1922.00" font-size="23.5" text-anchor="middle" fill="#4d4d4d">22-23</text>
<text x="1966.80" y="1922.00" font-size="23.5" text-anchor="middle" fill="#4d4d4d">23-24</text>
<polyline points="1393.6,1849.8 1508.6,1739.5" fill="none" stroke="#ff0000" stroke-width="6.2" stroke-linejoin="round" stroke-linecap="butt"/>
<polyline points="1737.5,1857.1 1852.2,1772.6 1966.8,1710.1" fill="none" stroke="#ff0000" stroke-width="6.2" stroke-linejoin="round" stroke-linecap="butt"/>
<circle cx="1393.6" cy="1849.8" r="7.4" fill="#ff0000"/>
<circle cx="1508.6" cy="1739.5" r="7.4" fill="#ff0000"/>
<circle cx="1737.5" cy="1857.1" r="7.4" fill="#ff0000"/>
<circle cx="1852.2" cy="1772.6" r="7.4" fill="#ff0000"/>
<circle cx="1966.8" cy="1710.1" r="7.4" fill="#ff0000"/>
<polyline points="1393.6,1713.8 1508.6,1603.5" fill="none" stroke="#80c5e6" stroke-width="6.2" stroke-linejoin="round" stroke-linecap="butt"/>
<polyline points="1737.5,1886.5 1852.2,1868.1 1966.8,1871.8" fill="none" stroke="#80c5e6" stroke-width="6.2" stroke-linejoin="round" stroke-linecap="butt"/>
<circle cx="1393.6" cy="1713.8" r="7.4" fill="#80c5e6"/>
<circle cx="1508.6" cy="1603.5" r="7.4" fill="#80c5e6"/>
<circle cx="1737.5" cy="1886.5" r="7.4" fill="#80c5e6"/>
<circle cx="1852.2" cy="1868.1" r="7.4" fill="#80c5e6"/>
<circle cx="1966.8" cy="1871.8" r="7.4" fill="#80c5e6"/>
<polyline points="1393.6,1559.4 1508.6,1537.3" fill="none" stroke="#0000ff" stroke-width="6.2" stroke-linejoin="round" stroke-linecap="butt"/>
<polyline points="1737.5,1677.0 1852.2,1647.6 1966.8,1728.5" fill="none" stroke="#0000ff" stroke-width="6.2" stroke-linejoin="round" stroke-linecap="butt"/>
<circle cx="1393.6" cy="1559.4" r="7.4" fill="#0000ff"/>
<circle cx="1508.6" cy="1537.3" r="7.4" fill="#0000ff"/>
<circle cx="1737.5" cy="1677.0" r="7.4" fill="#0000ff"/>
<circle cx="1852.2" cy="1647.6" r="7.4" fill="#0000ff"/>
<circle cx="1966.8" cy="1728.5" r="7.4" fill="#0000ff"/>
<line x1="1324.80" y1="1890.20" x2="2035.60" y2="1890.20" stroke="#000" stroke-width="3"/>
<text x="2485.32" y="291.70" font-size="37.5" textLength="165.09" lengthAdjust="spacingAndGlyphs" fill="#000" stroke="#000" stroke-width="0.45">Style Trend</text>
<line x1="2152.20" y1="1109.40" x2="2983.70" y2="1109.40" stroke="#d3d3d3" stroke-width="1.5"/>
<line x1="2152.20" y1="858.00" x2="2983.70" y2="858.00" stroke="#d3d3d3" stroke-width="1.5"/>
<line x1="2152.20" y1="606.60" x2="2983.70" y2="606.60" stroke="#d3d3d3" stroke-width="1.5"/>
<line x1="2152.20" y1="355.20" x2="2983.70" y2="355.20" stroke="#d3d3d3" stroke-width="1.5"/>
<text x="2137.50" y="1369.20" font-size="23.5" text-anchor="end" fill="#4d4d4d">0</text>
<text x="2137.50" y="1117.80" font-size="23.5" text-anchor="end" fill="#4d4d4d">25</text>
<text x="2137.50" y="866.40" font-size="23.5" text-anchor="end" fill="#4d4d4d">50</text>
<text x="2137.50" y="615.00" font-size="23.5" text-anchor="end" fill="#4d4d4d">75</text>
<text x="2137.50" y="363.60" font-size="23.5" text-anchor="end" fill="#4d4d4d">100</text>
<text x="2176.00" y="1396.80" font-size="23.5" text-anchor="middle" fill="#333">21-22</text>
<text x="2420.90" y="1396.80" font-size="23.5" text-anchor="middle" fill="#333">22-23</text>
<text x="2665.80" y="1396.80" font-size="23.5" text-anchor="middle" fill="#333">23-24</text>
<g opacity="0.1"><polyline points="2176.0,425.6 2420.9,496.0 2665.8,496.0" fill="none" stroke="#d95f02" stroke-width="6.2" stroke-linejoin="round"/><circle cx="2176.0" cy="425.6" r="7.4" fill="#d95f02"/><circle cx="2420.9" cy="496.0" r="7.4" fill="#d95f02"/><circle cx="2665.8" cy="496.0" r="7.4" fill="#d95f02"/></g>
<g opacity="0.1"><polyline points="2176.0,485.9 2420.9,485.9 2665.8,506.0" fill="none" stroke="#555555" stroke-width="6.2" stroke-linejoin="round"/><circle cx="2176.0" cy="485.9" r="7.4" fill="#555555"/><circle cx="2420.9" cy="485.9" r="7.4" fill="#555555"/><circle cx="2665.8" cy="506.0" r="7.4" fill="#555555"/></g>
<g opacity="0.1"><polyline points="2176.0,445.7 2420.9,485.9 2665.8,506.0" fill="none" stroke="#1b9e77" stroke-width="6.2" stroke-linejoin="round"/><circle cx="2176.0" cy="445.7" r="7.4" fill="#1b9e77"/><circle cx="2420.9" cy="485.9" r="7.4" fill="#1b9e77"/><circle cx="2665.8" cy="506.0" r="7.4" fill="#1b9e77"/></g>
<g opacity="0.1"><polyline points="2176.0,445.7 2420.9,566.4 2665.8,516.1" fill="none" stroke="#707070" stroke-width="6.2" stroke-linejoin="round"/><circle cx="2176.0" cy="445.7" r="7.4" fill="#707070"/><circle cx="2420.9" cy="566.4" r="7.4" fill="#707070"/><circle cx="2665.8" cy="516.1" r="7.4" fill="#707070"/></g>
<g opacity="0.1"><polyline points="2176.0,898.2 2420.9,1069.2 2665.8,1129.5" fill="none" stroke="#e6ab02" stroke-width="6.2" stroke-linejoin="round"/><circle cx="2176.0" cy="898.2" r="7.4" fill="#e6ab02"/><circle cx="2420.9" cy="1069.2" r="7.4" fill="#e6ab02"/><circle cx="2665.8" cy="1129.5" r="7.4" fill="#e6ab02"/></g>
<g opacity="0.1"><polyline points="2176.0,1179.8 2420.9,1220.0 2665.8,1210.0" fill="none" stroke="#a6761d" stroke-width="6.2" stroke-linejoin="round"/><circle cx="2176.0" cy="1179.8" r="7.4" fill="#a6761d"/><circle cx="2420.9" cy="1220.0" r="7.4" fill="#a6761d"/><circle cx="2665.8" cy="1210.0" r="7.4" fill="#a6761d"/></g>
<g opacity="0.1"><polyline points="2176.0,1189.8 2420.9,1189.8 2665.8,1230.1" fill="none" stroke="#66a61e" stroke-width="6.2" stroke-linejoin="round"/><circle cx="2176.0" cy="1189.8" r="7.4" fill="#66a61e"/><circle cx="2420.9" cy="1189.8" r="7.4" fill="#66a61e"/><circle cx="2665.8" cy="1230.1" r="7.4" fill="#66a61e"/></g>
<g opacity="1"><polyline points="2176.0,1189.8 2420.9,1230.1 2665.8,1119.5" fill="none" stroke="#5f57a6" stroke-width="6.2" stroke-linejoin="round"/><circle cx="2176.0" cy="1189.8" r="7.4" fill="#5f57a6"/><circle cx="2420.9" cy="1230.1" r="7.4" fill="#5f57a6"/><circle cx="2665.8" cy="1119.5" r="7.4" fill="#5f57a6"/></g>
<line x1="2152.20" y1="1360.80" x2="2983.70" y2="1360.80" stroke="#000" stroke-width="3"/>
<line x1="2668.80" y1="494.40" x2="2855.40" y2="432.00" stroke="#d95f02" stroke-width="2.2"/>
<line x1="2665.80" y1="505.80" x2="2871.70" y2="489.15" stroke="#555555" stroke-width="2.2"/>
<line x1="2665.80" y1="506.20" x2="2857.50" y2="546.10" stroke="#1b9e77" stroke-width="2.2"/>
<line x1="2667.80" y1="517.00" x2="2857.50" y2="603.40" stroke="#707070" stroke-width="2.2"/>
<line x1="2667.00" y1="1129.60" x2="2767.40" y2="1145.00" stroke="#e6ab02" stroke-width="2.2"/>
<line x1="2667.00" y1="1210.00" x2="2700.20" y2="1201.80" stroke="#a6761d" stroke-width="2.2"/>
<line x1="2667.00" y1="1230.50" x2="2777.80" y2="1258.60" stroke="#66a61e" stroke-width="2.2"/>
<line x1="2665.80" y1="1119.20" x2="2777.80" y2="1087.80" stroke="#5f57a6" stroke-width="2.2"/>
<rect x="2855.20" y="414.40" width="112.30" height="35.20" fill="#fff" stroke="#d95f02" stroke-width="1.6" rx="5.5"/>
<text x="2911.35" y="441.30" font-size="23.5" text-anchor="middle" fill="#d95f02">Crossing</text>
<rect x="2871.50" y="471.50" width="79.30" height="35.30" fill="#fff" stroke="#555555" stroke-width="1.6" rx="5.5"/>
<text x="2911.15" y="498.45" font-size="23.5" text-anchor="middle" fill="#555555">Shots</text>
<rect x="2857.30" y="528.40" width="108.10" height="35.40" fill="#fff" stroke="#1b9e77" stroke-width="1.6" rx="5.5"/>
<text x="2911.35" y="555.40" font-size="23.5" text-anchor="middle" fill="#1b9e77">Creation</text>
<rect x="2857.30" y="585.60" width="108.10" height="35.60" fill="#fff" stroke="#707070" stroke-width="1.6" rx="5.5"/>
<text x="2911.35" y="612.70" font-size="23.5" text-anchor="middle" fill="#707070">Carrying</text>
<rect x="2767.20" y="1127.60" width="207.00" height="34.80" fill="#fff" stroke="#e6ab02" stroke-width="1.6" rx="5.5"/>
<text x="2870.70" y="1154.30" font-size="23.5" text-anchor="middle" fill="#e6ab02">Passing Accuracy</text>
<rect x="2700.00" y="1184.20" width="274.20" height="35.20" fill="#fff" stroke="#a6761d" stroke-width="1.6" rx="5.5"/>
<text x="2837.10" y="1211.10" font-size="23.5" text-anchor="middle" fill="#a6761d">Possession Involvement</text>
<rect x="2777.60" y="1241.00" width="196.60" height="35.20" fill="#fff" stroke="#66a61e" stroke-width="1.6" rx="5.5"/>
<text x="2875.90" y="1267.90" font-size="23.5" text-anchor="middle" fill="#66a61e">Long Distribution</text>
<rect x="2777.60" y="1070.20" width="196.60" height="35.20" fill="#fff" stroke="#5f57a6" stroke-width="1.6" rx="5.5"/>
<text x="2875.90" y="1097.10" font-size="23.5" text-anchor="middle" fill="#5f57a6">Defensive Action</text>
<text x="2568.33" y="1483.40" font-size="37.5" textLength="215.84" lengthAdjust="spacingAndGlyphs" fill="#000" stroke="#000" stroke-width="0.45">Similar Players</text>
<rect x="2398.20" y="1528.30" width="506.20" height="41.40" fill="#fe7d80" stroke="#000" stroke-width="3.2"/>
<text x="2134.66" y="1544.50" font-size="27" textLength="222.55" lengthAdjust="spacingAndGlyphs" fill="#000" stroke="#000" stroke-width="0.32">Benedict Hollerbach</text>
<text x="2206.27" y="1574.60" font-size="27" textLength="150.86" lengthAdjust="spacingAndGlyphs" fill="#000" stroke="#000" stroke-width="0.32">(Union Berlin)</text>
<rect x="2870.85" y="1532.45" width="69.70" height="33.10" fill="#fff" stroke="#000" stroke-width="1.3" rx="5.5"/>
<text x="2905.70" y="1555.90" font-size="18.8" text-anchor="middle" fill="#000">100%</text>
<rect x="2398.20" y="1612.70" width="486.20" height="41.40" fill="#fb8e89" stroke="#000" stroke-width="3.2"/>
<text x="2165.95" y="1628.90" font-size="27" textLength="190.66" lengthAdjust="spacingAndGlyphs" fill="#000" stroke="#000" stroke-width="0.32">Antoine Semenyo</text>
<text x="2191.06" y="1659.00" font-size="27" textLength="166.09" lengthAdjust="spacingAndGlyphs" fill="#000" stroke="#000" stroke-width="0.32">(Bournemouth)</text>
<rect x="2848.35" y="1616.85" width="74.70" height="33.10" fill="#fff" stroke="#000" stroke-width="1.3" rx="5.5"/>
<text x="2885.70" y="1640.30" font-size="18.8" text-anchor="middle" fill="#000">95.9%</text>
<rect x="2398.20" y="1697.10" width="479.50" height="41.40" fill="#fa908a" stroke="#000" stroke-width="3.2"/>
<text x="2216.29" y="1713.30" font-size="27" textLength="140.34" lengthAdjust="spacingAndGlyphs" fill="#000" stroke="#000" stroke-width="0.32">Sofiane Diop</text>
<text x="2288.81" y="1743.40" font-size="27" textLength="68.38" lengthAdjust="spacingAndGlyphs" fill="#000" stroke="#000" stroke-width="0.32">(Nice)</text>
<rect x="2841.65" y="1701.25" width="74.70" height="33.10" fill="#fff" stroke="#000" stroke-width="1.3" rx="5.5"/>
<text x="2879.00" y="1724.70" font-size="18.8" text-anchor="middle" fill="#000">94.6%</text>
<rect x="2398.20" y="1781.50" width="474.10" height="41.40" fill="#fa938c" stroke="#000" stroke-width="3.2"/>
<text x="2173.30" y="1797.70" font-size="27" textLength="183.94" lengthAdjust="spacingAndGlyphs" fill="#000" stroke="#000" stroke-width="0.32">Largie Ramazani</text>
<text x="2253.41" y="1827.80" font-size="27" textLength="103.77" lengthAdjust="spacingAndGlyphs" fill="#000" stroke="#000" stroke-width="0.32">(Almeria)</text>
<rect x="2836.25" y="1785.65" width="74.70" height="33.10" fill="#fff" stroke="#000" stroke-width="1.3" rx="5.5"/>
<text x="2873.60" y="1809.10" font-size="18.8" text-anchor="middle" fill="#000">93.5%</text>
<rect x="2398.20" y="1865.90" width="471.20" height="41.40" fill="#fa958d" stroke="#000" stroke-width="3.2"/>
<text x="2097.75" y="1882.10" font-size="27" textLength="259.49" lengthAdjust="spacingAndGlyphs" fill="#000" stroke="#000" stroke-width="0.32">Abdessamad Ezzalzouli</text>
<text x="2107.80" y="1912.20" font-size="27" textLength="249.31" lengthAdjust="spacingAndGlyphs" fill="#000" stroke="#000" stroke-width="0.32">(Barcelona, Real Betis)</text>
<rect x="2841.50" y="1870.05" width="58.40" height="33.10" fill="#fff" stroke="#000" stroke-width="1.3" rx="5.5"/>
<text x="2870.70" y="1893.50" font-size="18.8" text-anchor="middle" fill="#000">93%</text>
<text x="60.23" y="1989.40" font-size="27.5" textLength="353.83" lengthAdjust="spacingAndGlyphs" font-style="italic" fill="#000" stroke="#000" stroke-width="0.33">Source: Understat, Opta via FBref</text>
<text x="60.90" y="2029.60" font-size="27.5" font-style="italic" stroke="#000" stroke-width="0.33" textLength="190.15" lengthAdjust="spacingAndGlyphs">Notes: Created by</text>
<text x="257.60" y="2029.60" font-size="27.5" font-style="italic" stroke="#000" stroke-width="0.33" textLength="215.91" lengthAdjust="spacingAndGlyphs">@macro_football on</text>
<text x="480.20" y="2029.60" font-size="27.5" font-style="italic" stroke="#000" stroke-width="0.33" textLength="162.99" lengthAdjust="spacingAndGlyphs">2024-06-01. All</text>
<text x="649.90" y="2029.60" font-size="27.5" font-style="italic" stroke="#000" stroke-width="0.33" textLength="164.56" lengthAdjust="spacingAndGlyphs">percentiles and</text>
<text x="821.20" y="2029.60" font-size="27.5" font-style="italic" stroke="#000" stroke-width="0.33" textLength="120.72" lengthAdjust="spacingAndGlyphs">metrics are</text>
<text x="948.70" y="2029.60" font-size="27.5" font-style="italic" stroke="#000" stroke-width="0.33" textLength="138.83" lengthAdjust="spacingAndGlyphs">relative to all</text>
<text x="1094.40" y="2029.60" font-size="27.5" font-style="italic" stroke="#000" stroke-width="0.33" textLength="143.69" lengthAdjust="spacingAndGlyphs">players in the</text>
<text x="1244.80" y="2029.60" font-size="27.5" font-style="italic" stroke="#000" stroke-width="0.33" textLength="162.11" lengthAdjust="spacingAndGlyphs">top 5 European</text>
<text x="1413.50" y="2029.60" font-size="27.5" font-style="italic" stroke="#000" stroke-width="0.33" textLength="90.92" lengthAdjust="spacingAndGlyphs">leagues.</text>
<text x="1511.10" y="2029.60" font-size="27.5" font-style="italic" stroke="#000" stroke-width="0.33" textLength="138.12" lengthAdjust="spacingAndGlyphs">Overall is the</text>
<text x="1655.80" y="2029.60" font-size="27.5" font-style="italic" stroke="#000" stroke-width="0.33" textLength="186.61" lengthAdjust="spacingAndGlyphs">player's expected</text>
<text x="1849.10" y="2029.60" font-size="27.5" font-style="italic" stroke="#000" stroke-width="0.33" textLength="138.32" lengthAdjust="spacingAndGlyphs">points above</text>
<text x="1994.20" y="2029.60" font-size="27.5" font-style="italic" stroke="#000" stroke-width="0.33" textLength="133.27" lengthAdjust="spacingAndGlyphs">replacement</text>
<text x="2134.20" y="2029.60" font-size="27.5" font-style="italic" stroke="#000" stroke-width="0.33" textLength="72.87" lengthAdjust="spacingAndGlyphs">(xPAR)</text>
<text x="2213.50" y="2029.60" font-size="27.5" font-style="italic" stroke="#000" stroke-width="0.33" textLength="114.50" lengthAdjust="spacingAndGlyphs">percentile.</text>
<text x="2334.90" y="2029.60" font-size="27.5" font-style="italic" stroke="#000" stroke-width="0.33" textLength="130.07" lengthAdjust="spacingAndGlyphs">Offense and</text>
<text x="2471.60" y="2029.60" font-size="27.5" font-style="italic" stroke="#000" stroke-width="0.33" textLength="167.75" lengthAdjust="spacingAndGlyphs">Defense Impact</text>
<text x="2646.00" y="2029.60" font-size="27.5" font-style="italic" stroke="#000" stroke-width="0.33" textLength="164.56" lengthAdjust="spacingAndGlyphs">percentiles and</text>
<text x="2817.76" y="2029.60" font-size="27.5" textLength="135.31" lengthAdjust="spacingAndGlyphs" font-style="italic" fill="#000" stroke="#000" stroke-width="0.33">Z-Scores are</text>
<text x="60.90" y="2069.30" font-size="27.5" font-style="italic" stroke="#000" stroke-width="0.33" textLength="120.89" lengthAdjust="spacingAndGlyphs">the player's</text>
<text x="188.40" y="2069.30" font-size="27.5" font-style="italic" stroke="#000" stroke-width="0.33" textLength="198.94" lengthAdjust="spacingAndGlyphs">isolated impact on</text>
<text x="394.20" y="2069.30" font-size="27.5" font-style="italic" stroke="#000" stroke-width="0.33" textLength="138.87" lengthAdjust="spacingAndGlyphs">xGF and xGA</text>
<text x="538.60" y="2069.30" font-size="27.5" font-style="italic" stroke="#000" stroke-width="0.33" textLength="157.92" lengthAdjust="spacingAndGlyphs">(or GF and GA)</text>
<text x="702.90" y="2069.30" font-size="27.5" font-style="italic" stroke="#000" stroke-width="0.33" textLength="73.90" lengthAdjust="spacingAndGlyphs">per 90,</text>
<text x="783.40" y="2069.30" font-size="27.5" font-style="italic" stroke="#000" stroke-width="0.33" textLength="151.49" lengthAdjust="spacingAndGlyphs">controlling for</text>
<text x="941.90" y="2069.30" font-size="27.5" font-style="italic" stroke="#000" stroke-width="0.33" textLength="125.62" lengthAdjust="spacingAndGlyphs">teammates,</text>
<text x="1074.20" y="2069.30" font-size="27.5" font-style="italic" stroke="#000" stroke-width="0.33" textLength="113.11" lengthAdjust="spacingAndGlyphs">opposition</text>
<text x="1194.20" y="2069.30" font-size="27.5" font-style="italic" stroke="#000" stroke-width="0.33" textLength="82.83" lengthAdjust="spacingAndGlyphs">players,</text>
<text x="1283.60" y="2069.30" font-size="27.5" font-style="italic" stroke="#000" stroke-width="0.33" textLength="112.20" lengthAdjust="spacingAndGlyphs">managers,</text>
<text x="1402.40" y="2069.30" font-size="27.5" font-style="italic" stroke="#000" stroke-width="0.33" textLength="64.25" lengthAdjust="spacingAndGlyphs">score,</text>
<text x="1473.20" y="2069.30" font-size="27.5" font-style="italic" stroke="#000" stroke-width="0.33" textLength="99.21" lengthAdjust="spacingAndGlyphs">situation,</text>
<text x="1579.30" y="2069.30" font-size="27.5" font-style="italic" stroke="#000" stroke-width="0.33" textLength="61.15" lengthAdjust="spacingAndGlyphs">etc...,</text>
<text x="1647.40" y="2069.30" font-size="27.5" font-style="italic" stroke="#000" stroke-width="0.33" textLength="68.61" lengthAdjust="spacingAndGlyphs">scaled</text>
<text x="1722.60" y="2069.30" font-size="27.5" font-style="italic" stroke="#000" stroke-width="0.33" textLength="107.23" lengthAdjust="spacingAndGlyphs">relative to</text>
<text x="1836.70" y="2069.30" font-size="27.5" font-style="italic" stroke="#000" stroke-width="0.33" textLength="167.72" lengthAdjust="spacingAndGlyphs">European Top 5</text>
<text x="2011.00" y="2069.30" font-size="27.5" font-style="italic" stroke="#000" stroke-width="0.33" textLength="78.84" lengthAdjust="spacingAndGlyphs">League</text>
<text x="2096.40" y="2069.30" font-size="27.5" font-style="italic" stroke="#000" stroke-width="0.33" textLength="93.43" lengthAdjust="spacingAndGlyphs">average.</text>
<text x="2196.50" y="2069.30" font-size="27.5" font-style="italic" stroke="#000" stroke-width="0.33" textLength="131.75" lengthAdjust="spacingAndGlyphs">Finishing (or</text>
<text x="2334.90" y="2069.30" font-size="27.5" font-style="italic" stroke="#000" stroke-width="0.33" textLength="80.50" lengthAdjust="spacingAndGlyphs">Saving)</text>
<text x="2422.00" y="2069.30" font-size="27.5" font-style="italic" stroke="#000" stroke-width="0.33" textLength="72.49" lengthAdjust="spacingAndGlyphs">Impact</text>
<text x="2501.20" y="2069.30" font-size="27.5" font-style="italic" stroke="#000" stroke-width="0.33" textLength="164.94" lengthAdjust="spacingAndGlyphs">percentiles and</text>
<text x="2672.90" y="2069.30" font-size="27.5" font-style="italic" stroke="#000" stroke-width="0.33" textLength="175.65" lengthAdjust="spacingAndGlyphs">Z-Scores are the</text>
<text x="2855.69" y="2069.30" font-size="27.5" textLength="80.80" lengthAdjust="spacingAndGlyphs" font-style="italic" fill="#000" stroke="#000" stroke-width="0.33">player's</text>
<text x="60.90" y="2109.00" font-size="27.5" font-style="italic" stroke="#000" stroke-width="0.33" textLength="159.49" lengthAdjust="spacingAndGlyphs">impact on shot</text>
<text x="227.20" y="2109.00" font-size="27.5" font-style="italic" stroke="#000" stroke-width="0.33" textLength="146.88" lengthAdjust="spacingAndGlyphs">xG, relative to</text>
<text x="380.70" y="2109.00" font-size="27.5" font-style="italic" stroke="#000" stroke-width="0.33" textLength="167.14" lengthAdjust="spacingAndGlyphs">European Top 5</text>
<text x="554.40" y="2109.00" font-size="27.5" font-style="italic" stroke="#000" stroke-width="0.33" textLength="176.66" lengthAdjust="spacingAndGlyphs">League average.</text>
<text x="737.60" y="2109.00" font-size="27.5" font-style="italic" stroke="#000" stroke-width="0.33" textLength="86.26" lengthAdjust="spacingAndGlyphs">Shot (or</text>
<text x="830.60" y="2109.00" font-size="27.5" font-style="italic" stroke="#000" stroke-width="0.33" textLength="169.58" lengthAdjust="spacingAndGlyphs">xG) Share is the</text>
<text x="1006.70" y="2109.00" font-size="27.5" font-style="italic" stroke="#000" stroke-width="0.33" textLength="127.49" lengthAdjust="spacingAndGlyphs">share of the</text>
<text x="1140.90" y="2109.00" font-size="27.5" font-style="italic" stroke="#000" stroke-width="0.33" textLength="137.27" lengthAdjust="spacingAndGlyphs">team's shots</text>
<text x="1285.00" y="2109.00" font-size="27.5" font-style="italic" stroke="#000" stroke-width="0.33" textLength="162.29" lengthAdjust="spacingAndGlyphs">(or xG) that the</text>
<text x="1454.00" y="2109.00" font-size="27.5" font-style="italic" stroke="#000" stroke-width="0.33" textLength="64.70" lengthAdjust="spacingAndGlyphs">player</text>
<text x="1525.30" y="2109.00" font-size="27.5" font-style="italic" stroke="#000" stroke-width="0.33" textLength="194.73" lengthAdjust="spacingAndGlyphs">takes when on the</text>
<text x="1726.70" y="2109.00" font-size="27.5" font-style="italic" stroke="#000" stroke-width="0.33" textLength="53.64" lengthAdjust="spacingAndGlyphs">field.</text>
<text x="1787.40" y="2109.00" font-size="27.5" font-style="italic" stroke="#000" stroke-width="0.33" textLength="131.72" lengthAdjust="spacingAndGlyphs">Usage is the</text>
<text x="1925.70" y="2109.00" font-size="27.5" font-style="italic" stroke="#000" stroke-width="0.33" textLength="127.59" lengthAdjust="spacingAndGlyphs">share of the</text>
<text x="2060.00" y="2109.00" font-size="27.5" font-style="italic" stroke="#000" stroke-width="0.33" textLength="195.67" lengthAdjust="spacingAndGlyphs">team's xG that the</text>
<text x="2262.40" y="2109.00" font-size="27.5" font-style="italic" stroke="#000" stroke-width="0.33" textLength="89.43" lengthAdjust="spacingAndGlyphs">player is</text>
<text x="2358.50" y="2109.00" font-size="27.5" font-style="italic" stroke="#000" stroke-width="0.33" textLength="161.17" lengthAdjust="spacingAndGlyphs">responsible for</text>
<text x="2526.50" y="2109.00" font-size="27.5" font-style="italic" stroke="#000" stroke-width="0.33" textLength="130.64" lengthAdjust="spacingAndGlyphs">when on the</text>
<text x="2663.80" y="2109.00" font-size="27.5" font-style="italic" stroke="#000" stroke-width="0.33" textLength="84.20" lengthAdjust="spacingAndGlyphs">field via</text>
<text x="2754.90" y="2109.00" font-size="27.5" font-style="italic" stroke="#000" stroke-width="0.33" textLength="155.10" lengthAdjust="spacingAndGlyphs">either shots or</text>
<text x="2916.74" y="2109.00" font-size="27.5" textLength="44.84" lengthAdjust="spacingAndGlyphs" font-style="italic" fill="#000" stroke="#000" stroke-width="0.33">shot</text>
<text x="60.90" y="2149.00" font-size="27.5" font-style="italic" stroke="#000" stroke-width="0.33" textLength="82.80" lengthAdjust="spacingAndGlyphs">assists.</text>
<text x="150.60" y="2149.00" font-size="27.5" font-style="italic" stroke="#000" stroke-width="0.33" textLength="103.59" lengthAdjust="spacingAndGlyphs">Individual</text>
<text x="261.00" y="2149.00" font-size="27.5" font-style="italic" stroke="#000" stroke-width="0.33" textLength="159.95" lengthAdjust="spacingAndGlyphs">characteristics</text>
<text x="427.90" y="2149.00" font-size="27.5" font-style="italic" stroke="#000" stroke-width="0.33" textLength="187.90" lengthAdjust="spacingAndGlyphs">(i.e. dribbling and</text>
<text x="622.60" y="2149.00" font-size="27.5" font-style="italic" stroke="#000" stroke-width="0.33" textLength="207.99" lengthAdjust="spacingAndGlyphs">creating) are based</text>
<text x="837.30" y="2149.00" font-size="27.5" font-style="italic" stroke="#000" stroke-width="0.33" textLength="45.77" lengthAdjust="spacingAndGlyphs">on a</text>
<text x="889.60" y="2149.00" font-size="27.5" font-style="italic" stroke="#000" stroke-width="0.33" textLength="156.15" lengthAdjust="spacingAndGlyphs">dimensionality</text>
<text x="1052.60" y="2149.00" font-size="27.5" font-style="italic" stroke="#000" stroke-width="0.33" textLength="187.80" lengthAdjust="spacingAndGlyphs">reduction of each</text>
<text x="1247.20" y="2149.00" font-size="27.5" font-style="italic" stroke="#000" stroke-width="0.33" textLength="82.03" lengthAdjust="spacingAndGlyphs">player's</text>
<text x="1335.90" y="2149.00" font-size="27.5" font-style="italic" stroke="#000" stroke-width="0.33" textLength="168.13" lengthAdjust="spacingAndGlyphs">micro-statistics</text>
<text x="1511.10" y="2149.00" font-size="27.5" font-style="italic" stroke="#000" stroke-width="0.33" textLength="159.25" lengthAdjust="spacingAndGlyphs">(i.e. short pass</text>
<text x="1677.10" y="2149.00" font-size="27.5" font-style="italic" stroke="#000" stroke-width="0.33" textLength="142.55" lengthAdjust="spacingAndGlyphs">attempts and</text>
<text x="1826.50" y="2149.00" font-size="27.5" font-style="italic" stroke="#000" stroke-width="0.33" textLength="155.71" lengthAdjust="spacingAndGlyphs">interceptions).</text>
<text x="1989.10" y="2149.00" font-size="27.5" font-style="italic" stroke="#000" stroke-width="0.33" textLength="132.32" lengthAdjust="spacingAndGlyphs">Player types</text>
<text x="2128.10" y="2149.00" font-size="27.5" font-style="italic" stroke="#000" stroke-width="0.33" textLength="170.34" lengthAdjust="spacingAndGlyphs">(i.e. ball-playing</text>
<text x="2305.20" y="2149.00" font-size="27.5" font-style="italic" stroke="#000" stroke-width="0.33" textLength="143.84" lengthAdjust="spacingAndGlyphs">defender) are</text>
<text x="2455.70" y="2149.00" font-size="27.5" font-style="italic" stroke="#000" stroke-width="0.33" textLength="117.22" lengthAdjust="spacingAndGlyphs">based on a</text>
<text x="2579.50" y="2149.00" font-size="27.5" font-style="italic" stroke="#000" stroke-width="0.33" textLength="106.11" lengthAdjust="spacingAndGlyphs">clustering</text>
<text x="2692.50" y="2149.00" font-size="27.5" font-style="italic" stroke="#000" stroke-width="0.33" textLength="178.83" lengthAdjust="spacingAndGlyphs">analysis of every</text>
<text x="2878.60" y="2149.00" font-size="27.5" textLength="81.89" lengthAdjust="spacingAndGlyphs" font-style="italic" fill="#000" stroke="#000" stroke-width="0.33">player's</text>
<text x="60.90" y="2188.80" font-size="27.5" font-style="italic" stroke="#000" stroke-width="0.33" textLength="102.19" lengthAdjust="spacingAndGlyphs">individual</text>
<text x="169.90" y="2188.80" font-size="27.5" font-style="italic" stroke="#000" stroke-width="0.33" textLength="166.75" lengthAdjust="spacingAndGlyphs">characteristics.</text>
<text x="343.60" y="2188.80" font-size="27.5" font-style="italic" stroke="#000" stroke-width="0.33" textLength="171.98" lengthAdjust="spacingAndGlyphs">Player similarity</text>
<text x="522.40" y="2188.80" font-size="27.5" font-style="italic" stroke="#000" stroke-width="0.33" textLength="182.30" lengthAdjust="spacingAndGlyphs">scores are based</text>
<text x="711.30" y="2188.80" font-size="27.5" font-style="italic" stroke="#000" stroke-width="0.33" textLength="132.80" lengthAdjust="spacingAndGlyphs">on the same</text>
<text x="850.80" y="2188.80" font-size="27.5" font-style="italic" stroke="#000" stroke-width="0.33" textLength="106.11" lengthAdjust="spacingAndGlyphs">clustering</text>
<text x="963.25" y="2188.80" font-size="27.5" textLength="95.98" lengthAdjust="spacingAndGlyphs" font-style="italic" fill="#000" stroke="#000" stroke-width="0.33">analysis.</text>
</svg>
</body></html>
